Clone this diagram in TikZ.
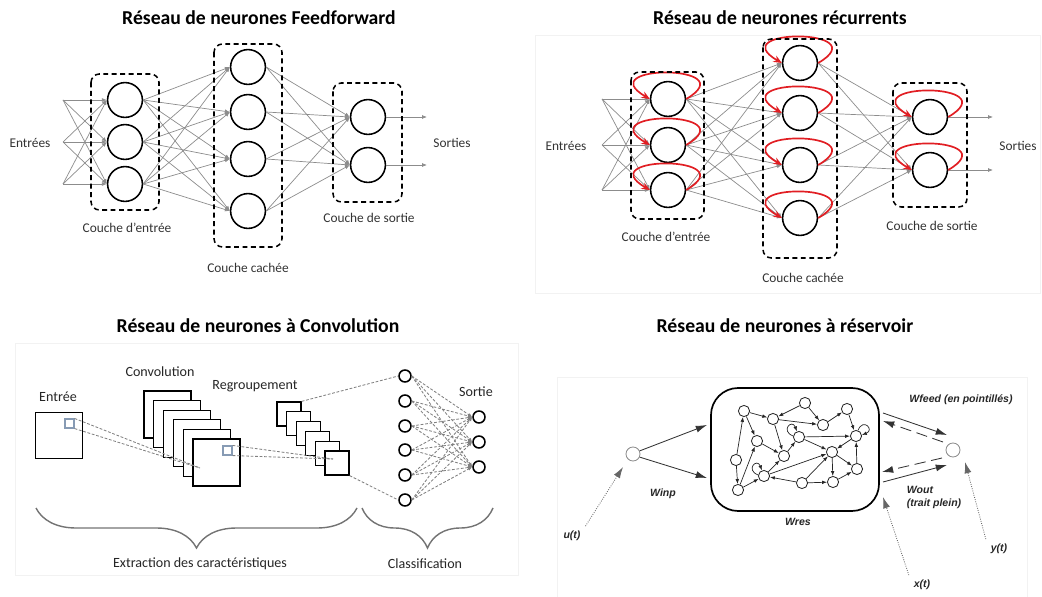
\documentclass[tikz,border=0pt]{standalone}
\usepackage{fontspec}
\setmainfont{Carlito}
\newfontfamily\arialfont{Liberation Sans}
\usetikzlibrary{arrows.meta, positioning, decorations.pathreplacing}

\definecolor{patchblue}{RGB}{135,155,180}
\definecolor{loopred}{RGB}{225,30,35}

\tikzset{
	frame/.style={draw=black!5, line width=0.6pt},
	title/.style={font=\fontsize{14}{16}\selectfont\bfseries},
	lbl/.style={font=\fontsize{9.5}{11}\selectfont, text=black!80},
	cnnlbl/.style={font=\fontsize{10}{12}\selectfont, text=black!85},
	reslbl/.style={font=\arialfont\fontsize{7.5}{9}\selectfont\bfseries\itshape, text=black!85},
	neuron/.style={circle, draw, line width=1.1pt, minimum size=0.87cm, inner sep=0pt, fill=white},
	link/.style={draw=black!45, line width=0.5pt, -{Latex[length=3.5pt,width=2.8pt]}},
	layerbox/.style={draw, line width=1.1pt, dash pattern=on 3.5pt off 2.5pt, rounded corners=6pt},
	selfloop/.style={draw=loopred, line width=1.2pt, -{Stealth[length=6pt,width=5pt]}},
	fmap/.style={rectangle, draw, line width=0.9pt, fill=white, inner sep=0pt},
	patch/.style={rectangle, draw=patchblue, line width=0.8pt, minimum size=0.225cm, inner sep=0pt},
	dlink/.style={draw=black!50, line width=0.6pt, dash pattern=on 2pt off 1.2pt},
	darrow/.style={dlink, -{Latex[length=3pt,width=2.5pt]}},
	unit/.style={circle, draw, line width=1.1pt, minimum size=0.3cm, inner sep=0pt, fill=white},
	bracegray/.style={draw=black!55, line width=1pt, decorate, decoration={brace, amplitude=1cm, mirror}},
	resunit/.style={circle, draw=black!85, line width=0.6pt, minimum size=0.28cm, inner sep=0pt},
	reslink/.style={draw=black!85, line width=0.5pt, -{Latex[length=3.5pt,width=2.6pt]}},
	iounit/.style={circle, draw=black!45, line width=0.6pt, minimum size=0.35cm, inner sep=0pt},
	bigarrow/.style={draw=black!80, line width=0.6pt, -{Latex[length=8pt,width=5pt]}},
	feedarrow/.style={bigarrow, dash pattern=on 8pt off 4pt},
	dotarrow/.style={draw=black!60, line width=0.6pt, densely dotted, -{Latex[length=8pt,width=5pt]}}
}

\begin{document}
\begin{tikzpicture}[x=0.025cm, y=-0.025cm]
	\useasboundingbox (0,0) rectangle (1042,597);
	
	\draw[frame] (535,35) rectangle (1040,293);
	\draw[frame] (15,343) rectangle (518,575);
	\draw[frame] (557,377) rectangle (1027,597);
	
	% Feedforward
	\node[title] (t1) at (259,18) {Réseau de neurones Feedforward};
	\node[neuron] (fi1) at (125,100) {};
	\node[neuron] (fi2) at (125,142) {};
	\node[neuron] (fi3) at (125,184) {};
	\node[neuron] (fh1) at (248,67) {};
	\node[neuron] (fh2) at (248,112) {};
	\node[neuron] (fh3) at (248,159) {};
	\node[neuron] (fh4) at (248,211) {};
	\node[neuron] (fo1) at (368,117) {};
	\node[neuron] (fo2) at (368,165) {};
	\coordinate (fx1) at (63,100);
	\coordinate (fx2) at (63,142);
	\coordinate (fx3) at (63,184);
	\coordinate (fy1) at (427,117);
	\coordinate (fy2) at (427,165);
	
	\foreach \a in {1,2,3} \foreach \b in {1,2,3} \draw[link] (fx\a) -- (fi\b.west);
	\foreach \a in {1,2,3} \foreach \b in {1,...,4} \draw[link] (fi\a.east) -- (fh\b.west);
	\foreach \a in {1,...,4} \foreach \b in {1,2} \draw[link] (fh\a.east) -- (fo\b.west);
	\foreach \a in {1,2} \draw[link] (fo\a.east) -- (fy\a);
	
	\draw[layerbox] (91,74) rectangle (159,210);
	\draw[layerbox] (214,44) rectangle (282,247);
	\draw[layerbox] (333,83) rectangle (402,202);
	
	\node[lbl] (fin) at (30,143) {Entrées};
	\node[lbl] (fout) at (452,143) {Sorties};
	\node[lbl] (fl1) at (127,228) {Couche d’entrée};
	\node[lbl] (fl2) at (248,268) {Couche cachée};
	\node[lbl] (fl3) at (369,218) {Couche de sortie};
	
	% Recurrent
	\node[title] (t2) at (780,18) {Réseau de neurones récurrents};
	\node[neuron] (ri1) at (668,99) {};
	\node[neuron] (ri2) at (668,145) {};
	\node[neuron] (ri3) at (668,190) {};
	\node[neuron] (rh1) at (800,63) {};
	\node[neuron] (rh2) at (800,113) {};
	\node[neuron] (rh3) at (800,165) {};
	\node[neuron] (rh4) at (800,218) {};
	\node[neuron] (ro1) at (930,117) {};
	\node[neuron] (ro2) at (930,170) {};
	\coordinate (rx1) at (602,99);
	\coordinate (rx2) at (602,145);
	\coordinate (rx3) at (602,190);
	\coordinate (ry1) at (993,117);
	\coordinate (ry2) at (993,170);
	
	\foreach \a in {1,2,3} \foreach \b in {1,2,3} \draw[link] (rx\a) -- (ri\b.west);
	\foreach \a in {1,2,3} \foreach \b in {1,...,4} \draw[link] (ri\a.east) -- (rh\b.west);
	\foreach \a in {1,...,4} \foreach \b in {1,2} \draw[link] (rh\a.east) -- (ro\b.west);
	\foreach \a in {1,2} \draw[link] (ro\a.east) -- (ry\a);
	
	\foreach \n in {ri1,ri2,ri3,rh1,rh2,rh3,rh4,ro1,ro2}
		\draw[selfloop] (\n.east) .. controls +(60,-35) and +(-60,-35) .. (\n.west);
	
	\draw[layerbox] (631,72) rectangle (704,219);
	\draw[layerbox] (763,39) rectangle (837,258);
	\draw[layerbox] (893,83) rectangle (967,207);
	
	\node[lbl] (rin) at (566,146) {Entrées};
	\node[lbl] (rout) at (1018,146) {Sorties};
	\node[lbl] (rl1) at (666,237) {Couche d’entrée};
	\node[lbl] (rl2) at (803,278) {Couche cachée};
	\node[lbl] (rl3) at (932,226) {Couche de sortie};
	
	% Convolution
	\node[title] (t3) at (258,326) {Réseau de neurones à Convolution};
	\node[fmap, minimum size=1.16cm] (in) at (59,435.5) {};
	\node[patch] (ip) at (69.5,423.5) {};
	\foreach \i in {0,...,5}
		\node[fmap, minimum size=1.175cm] (c\i) at (167.5+9.8*\i,414.5+9.6*\i) {};
	\node[patch] (cp) at (227.5,450.5) {};
	\foreach \i in {0,...,5}
		\node[fmap, minimum size=0.6cm] (p\i) at (289+9.6*\i,414+9.8*\i) {};
	\coordinate (ct) at (200,468);
	\coordinate (pt) at (333,459);
	
	\node[unit] (u1) at (405,376) {};
	\node[unit] (u2) at (405,401) {};
	\node[unit] (u3) at (405,426) {};
	\node[unit] (u4) at (405,450) {};
	\node[unit] (u5) at (405,475) {};
	\node[unit] (u6) at (405,500) {};
	\node[unit] (s1) at (479,417) {};
	\node[unit] (s2) at (479,442) {};
	\node[unit] (s3) at (479,467) {};
	
	\draw[dlink] (ip.north east) -- (ct);
	\draw[dlink] (ip.south east) -- (ct);
	\draw[dlink] (cp.north east) -- (pt);
	\draw[dlink] (cp.south east) -- (pt);
	\draw[dlink] (p0.north east) -- (u1.west);
	\draw[dlink] (p5.south east) -- (u6.west);
	\foreach \a in {1,...,6} \foreach \b in {1,2,3} \draw[darrow] (u\a.east) -- (s\b.west);
	
	\draw[bracegray] (36,508) -- (357,508);
	\draw[bracegray] (362,508) -- (493,508);
	
	\node[cnnlbl] (l1) at (58,397) {Entrée};
	\node[cnnlbl] (l2) at (160,372) {Convolution};
	\node[cnnlbl] (l3) at (255,386) {Regroupement};
	\node[cnnlbl] (l4) at (476,392) {Sortie};
	\node[cnnlbl] (l5) at (200,564) {Extraction des caractéristiques};
	\node[cnnlbl] (l6) at (425,564) {Classification};
	
	% Reservoir
	\node[title] (t4) at (785,326) {Réseau de neurones à réservoir};
	\node[draw, line width=1.2pt, rounded corners=0.68cm, minimum width=4.2cm, minimum height=3.075cm] (res) at (795,449.5) {};
	
	\node[resunit] (r1) at (744,411) {};
	\node[resunit] (r2) at (773,419) {};
	\node[resunit] (r3) at (805,403) {};
	\node[resunit] (r4) at (823,425) {};
	\node[resunit] (r5) at (847,409) {};
	\node[resunit] (r6) at (856,436) {};
	\node[resunit] (r7) at (799,437) {};
	\node[resunit] (r8) at (757,441) {};
	\node[resunit] (r9) at (784,456) {};
	\node[resunit] (r10) at (832,452) {};
	\node[resunit] (r11) at (736,460) {};
	\node[resunit] (r12) at (764,476) {};
	\node[resunit] (r13) at (738,490) {};
	\node[resunit] (r14) at (802,483) {};
	\node[resunit] (r15) at (833,482) {};
	\node[resunit] (r16) at (857,469) {};
	
	\foreach \a/\b in {r1/r2, r3/r2, r3/r4, r2/r4, r4/r5, r5/r6, r7/r6, r7/r10, r6/r10, r16/r6, r10/r16, r10/r15, r14/r15, r15/r16, r14/r12, r12/r10, r14/r10, r13/r12, r11/r13, r11/r1, r13/r8, r1/r8, r8/r9, r2/r9, r9/r7, r12/r9}
		\draw[reslink] (\a) -- (\b);
	\draw[reslink] (r6.70) .. controls +(5,-13) and +(13,-5) .. (r6.10);
	\draw[reslink] (r7.170) .. controls +(-13,-5) and +(-5,-13) .. (r7.110);
	\draw[reslink] (r12.170) .. controls +(-13,-5) and +(-5,-13) .. (r12.110);
	
	\node[iounit] (inp) at (633,454) {};
	\node[iounit] (out) at (953,450) {};
	\coordinate (wa) at (707,425);
	\coordinate (wb) at (707,478);
	\coordinate (fa) at (883,413);
	\coordinate (fb) at (947,435);
	\coordinate (fc) at (943,442);
	\coordinate (fd) at (883,421);
	\coordinate (fe) at (942,458);
	\coordinate (ff) at (882,472);
	\coordinate (fg) at (883,482);
	\coordinate (fh) at (947,465);
	\coordinate (xa) at (883,497);
	\coordinate (ya) at (965,462);
	\coordinate (ua) at (623,467);
	
	\draw[bigarrow] (inp.25) -- (wa);
	\draw[bigarrow] (inp.-25) -- (wb);
	\draw[bigarrow] (fa) -- (fb);
	\draw[feedarrow] (fc) -- (fd);
	\draw[feedarrow] (fe) -- (ff);
	\draw[bigarrow] (fg) -- (fh);
	
	\node[reslbl] (ut) at (572,536) {u(t)};
	\node[reslbl] (xt) at (922,585) {x(t)};
	\node[reslbl] (yt) at (999,549) {y(t)};
	\node[reslbl] (winp) at (663,494) {Winp};
	\node[reslbl] (wres) at (798,522) {Wres};
	\node[reslbl] (wfeed) at (961,400) {Wfeed (en pointillés)};
	\node[reslbl] (wout) at (920,490) {Wout};
	\node[reslbl] (wout2) at (934,504) {(trait plein)};
	
	\draw[dotarrow] (ut.north east) -- (ua);
	\draw[dotarrow] (xt.north west) -- (xa);
	\draw[dotarrow] (yt.north west) -- (ya);
\end{tikzpicture}
\end{document}
